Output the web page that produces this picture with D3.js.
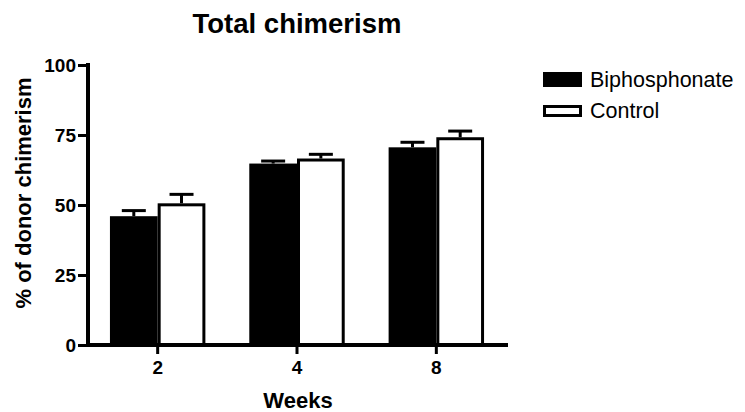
<!DOCTYPE html>
<html>
<head>
<meta charset="utf-8">
<script src="https://cdn.jsdelivr.net/npm/d3@7"></script>
<style>
  html, body { margin: 0; padding: 0; background: #fff; }
  svg { display: block; font-family: "Liberation Sans", Arial, sans-serif; }
</style>
</head>
<body>
<svg id="chart" width="745" height="412"></svg>
<script>
const categories = ["2", "4", "8"];
const seriesNames = ["Biphosphonate", "Control"];
const biphosphonate = [46.0, 64.8, 70.6];
const biphosphonateErr = [2.0, 0.9, 1.8];
const control = [50.6, 66.6, 74.2];
const controlErr = [3.2, 1.5, 2.2];
const yTicks = [0, 25, 50, 75, 100];
const colors = ["#000000", "#ffffff"];

const svg = d3.select("#chart");
const mLeft = 88, mRight = 506, mTop = 65, mBottom = 345;

const x0 = d3.scaleBand().domain(categories).range([mLeft, mRight]).paddingInner(0).paddingOuter(0);
const x1 = d3.scaleBand().domain(seriesNames).range([0, x0.bandwidth()]).paddingInner(0).paddingOuter(0.46);
const y = d3.scaleLinear().domain([0, 100]).range([mBottom, mTop]);

const data = categories.map((c, i) => ({
  cat: c,
  vals: [
    { s: seriesNames[0], v: biphosphonate[i], e: biphosphonateErr[i], fill: colors[0] },
    { s: seriesNames[1], v: control[i], e: controlErr[i], fill: colors[1] }
  ]
}));

const g = svg.append("g");
data.forEach(d => {
  d.vals.forEach(b => {
    const bx = x0(d.cat) + x1(b.s);
    const bw = x1.bandwidth();
    const cx = bx + bw / 2;
    g.append("line").attr("x1", cx).attr("x2", cx)
      .attr("y1", y(b.v)).attr("y2", y(b.v + b.e))
      .attr("stroke", "#000").attr("stroke-width", 3);
    g.append("line").attr("x1", cx - 12).attr("x2", cx + 12)
      .attr("y1", y(b.v + b.e)).attr("y2", y(b.v + b.e))
      .attr("stroke", "#000").attr("stroke-width", 3);
    g.append("rect")
      .attr("x", bx + 1.5).attr("y", y(b.v) + 1.5)
      .attr("width", bw - 3).attr("height", y(0) - y(b.v) - 1.5)
      .attr("fill", b.fill).attr("stroke", "#000").attr("stroke-width", 3);
  });
});

const yAxis = svg.append("g").attr("transform", `translate(${mLeft},0)`)
  .call(d3.axisLeft(y).tickValues(yTicks).tickSize(10).tickPadding(2).tickSizeOuter(0));
const xAxis = svg.append("g").attr("transform", `translate(0,${mBottom})`)
  .call(d3.axisBottom(x0).tickSize(9).tickPadding(7).tickSizeOuter(0));

[yAxis, xAxis].forEach(ax => {
  ax.select(".domain").attr("stroke", "#000").attr("stroke-width", 4);
  ax.selectAll(".tick line").attr("stroke", "#000").attr("stroke-width", 3);
  ax.selectAll(".tick text").attr("fill", "#000").attr("font-size", 19)
    .attr("font-weight", "bold").attr("font-family", "Liberation Sans, Arial, sans-serif");
});
yAxis.select(".domain").attr("d", `M0,${mBottom + 2}V${mTop - 2}`);
xAxis.select(".domain").attr("d", `M${mLeft - 2},0H${mRight + 2}`);

svg.append("text").attr("x", 297).attr("y", 33).attr("text-anchor", "middle")
  .attr("font-size", 27.5).attr("font-weight", "bold").text("Total chimerism");

svg.append("text").attr("x", 298).attr("y", 408).attr("text-anchor", "middle")
  .attr("font-size", 22).attr("font-weight", "bold").text("Weeks");

svg.append("text").attr("transform", `translate(31,193) rotate(-90)`)
  .attr("text-anchor", "middle").attr("font-size", 22).attr("font-weight", "bold")
  .text("% of donor chimerism");

const leg = svg.append("g");
leg.append("rect").attr("x", 543).attr("y", 72).attr("width", 39).attr("height", 15).attr("fill", "#000");
leg.append("rect").attr("x", 544.5).attr("y", 106.5).attr("width", 36).attr("height", 9)
  .attr("fill", "#fff").attr("stroke", "#000").attr("stroke-width", 3);
leg.append("text").attr("x", 590).attr("y", 87).attr("font-size", 21.5).text(seriesNames[0]);
leg.append("text").attr("x", 590).attr("y", 118).attr("font-size", 21.5).text(seriesNames[1]);
</script>
</body>
</html>
